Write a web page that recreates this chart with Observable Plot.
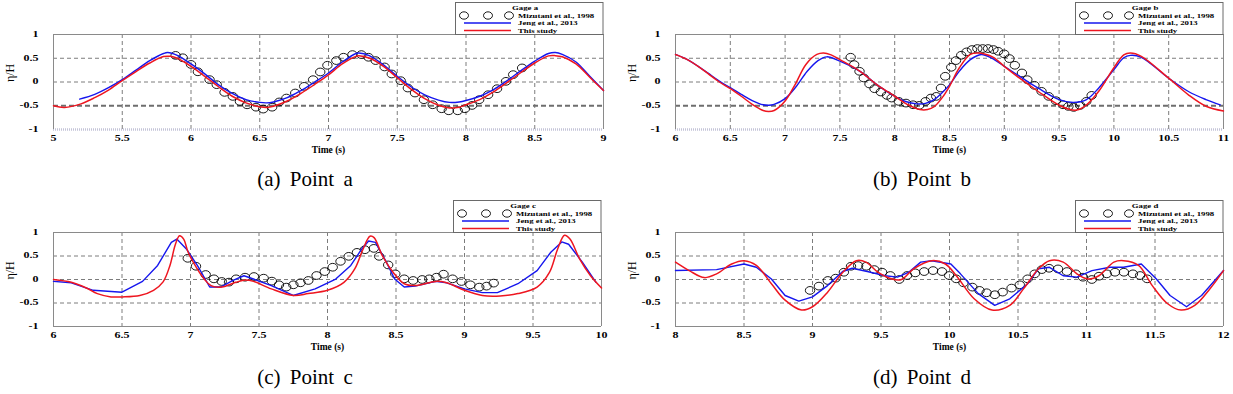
<!DOCTYPE html>
<html><head><meta charset="utf-8">
<script src="https://cdn.jsdelivr.net/npm/d3@7"></script>
<script src="https://cdn.jsdelivr.net/npm/@observablehq/plot@0.6"></script>
<style>
body{margin:0;background:#fff;width:1233px;height:394px;position:relative;overflow:hidden;font-family:"Liberation Serif",serif}
.panel{position:absolute;width:616px;height:160px}
.cap{position:absolute;width:616px;text-align:center;font-size:21px;word-spacing:4px;line-height:1;color:#000}
</style></head><body>
<script>
// ---------- tick labels ----------
const yTicks = [-1, -0.5, 0, 0.5, 1];
const xTicksA = [5, 5.5, 6, 6.5, 7, 7.5, 8, 8.5, 9];
const xTicksB = [6, 6.5, 7, 7.5, 8, 8.5, 9, 9.5, 10, 10.5, 11];
const xTicksC = [6, 6.5, 7, 7.5, 8, 8.5, 9, 9.5, 10];
const xTicksD = [8, 8.5, 9, 9.5, 10, 10.5, 11, 11.5, 12];
const seriesNames = ["Mizutani et al., 1998", "Jeng et al., 2013", "This study"];
const gageNames = ["Gage a", "Gage b", "Gage c", "Gage d"];
const captions = ["(a) Point a", "(b) Point b", "(c) Point c", "(d) Point d"];

// ---------- Gage a ----------
const aMizutani = [[5.888,0.56],[5.94,0.51],[6.0,0.37],[6.05,0.215],[6.135,0.05],[6.187,-0.056],[6.244,-0.218],[6.304,-0.303],[6.356,-0.41],[6.408,-0.48],[6.473,-0.53],[6.525,-0.57],[6.59,-0.53],[6.642,-0.42],[6.694,-0.338],[6.758,-0.232],[6.823,-0.092],[6.888,0.049],[6.94,0.211],[6.992,0.352],[7.057,0.451],[7.109,0.521],[7.174,0.577],[7.239,0.577],[7.291,0.521],[7.343,0.451],[7.408,0.317],[7.46,0.169],[7.525,0.028],[7.577,-0.127],[7.629,-0.232],[7.694,-0.373],[7.758,-0.479],[7.823,-0.563],[7.875,-0.606],[7.94,-0.606],[7.992,-0.563],[8.044,-0.493],[8.096,-0.373],[8.161,-0.268],[8.226,-0.141],[8.291,0.014],[8.343,0.155],[8.408,0.296]];
const aJeng = [[5.19,-0.36],[5.3,-0.26],[5.4,-0.12],[5.5,0.05],[5.6,0.25],[5.7,0.45],[5.8,0.6],[5.83,0.62],[5.9,0.56],[6.0,0.38],[6.1,0.17],[6.2,-0.06],[6.3,-0.24],[6.4,-0.37],[6.5,-0.43],[6.55,-0.44],[6.6,-0.42],[6.7,-0.33],[6.8,-0.18],[6.9,0.0],[7.0,0.19],[7.1,0.42],[7.2,0.6],[7.22,0.61],[7.3,0.55],[7.4,0.36],[7.5,0.12],[7.6,-0.1],[7.7,-0.27],[7.8,-0.38],[7.88,-0.43],[7.95,-0.42],[8.0,-0.39],[8.1,-0.3],[8.2,-0.16],[8.3,0.03],[8.4,0.24],[8.5,0.44],[8.6,0.6],[8.65,0.62],[8.7,0.58],[8.8,0.42],[8.9,0.12],[9.0,-0.18]];
const aStudy = [[5.0,-0.5],[5.08,-0.535],[5.2,-0.46],[5.3,-0.33],[5.4,-0.17],[5.5,0.03],[5.6,0.22],[5.7,0.4],[5.8,0.535],[5.85,0.54],[5.9,0.5],[6.0,0.33],[6.1,0.12],[6.2,-0.1],[6.3,-0.3],[6.4,-0.44],[6.5,-0.52],[6.55,-0.535],[6.6,-0.51],[6.7,-0.4],[6.8,-0.24],[6.9,-0.05],[7.0,0.15],[7.1,0.38],[7.2,0.54],[7.22,0.555],[7.3,0.5],[7.4,0.33],[7.5,0.09],[7.6,-0.15],[7.7,-0.35],[7.8,-0.49],[7.88,-0.545],[7.95,-0.53],[8.0,-0.48],[8.1,-0.37],[8.2,-0.21],[8.3,-0.01],[8.4,0.2],[8.5,0.4],[8.6,0.55],[8.65,0.555],[8.7,0.53],[8.8,0.38],[8.9,0.1],[9.0,-0.18]];

// ---------- Gage b ----------
const bMizutani = [[7.598,0.521],[7.63,0.366],[7.679,0.225],[7.718,0.085],[7.77,-0.042],[7.816,-0.141],[7.874,-0.211],[7.93,-0.282],[7.972,-0.338],[8.037,-0.408],[8.103,-0.444],[8.168,-0.479],[8.223,-0.493],[8.282,-0.408],[8.33,-0.338],[8.379,-0.303],[8.422,-0.127],[8.461,0.12],[8.516,0.31],[8.559,0.451],[8.607,0.563],[8.656,0.634],[8.705,0.683],[8.754,0.704],[8.803,0.704],[8.852,0.704],[8.901,0.683],[8.943,0.648],[8.999,0.592],[9.047,0.493],[9.096,0.352],[9.161,0.19],[9.21,0.049],[9.275,-0.07],[9.34,-0.197],[9.405,-0.303],[9.471,-0.394],[9.536,-0.479],[9.585,-0.514],[9.633,-0.535],[9.692,-0.493],[9.748,-0.408],[9.797,-0.282]];
const bJeng = [[6.0,0.58],[6.1,0.48],[6.2,0.34],[6.3,0.18],[6.4,0.02],[6.5,-0.12],[6.6,-0.26],[6.7,-0.39],[6.8,-0.48],[6.85,-0.49],[6.9,-0.47],[7.0,-0.35],[7.1,-0.1],[7.2,0.22],[7.3,0.45],[7.38,0.53],[7.5,0.44],[7.68,0.23],[7.84,-0.06],[8.0,-0.3],[8.1,-0.41],[8.2,-0.46],[8.28,-0.45],[8.36,-0.37],[8.43,-0.23],[8.5,-0.06],[8.59,0.23],[8.69,0.47],[8.79,0.58],[8.88,0.51],[9.0,0.33],[9.14,0.12],[9.31,-0.13],[9.5,-0.37],[9.63,-0.43],[9.75,-0.37],[9.86,-0.13],[10.0,0.26],[10.09,0.51],[10.15,0.56],[10.25,0.52],[10.5,0.08],[10.68,-0.2],[10.84,-0.37],[10.97,-0.48]];
const bStudy = [[6.0,0.58],[6.1,0.48],[6.2,0.34],[6.3,0.17],[6.4,0.0],[6.5,-0.14],[6.6,-0.3],[6.7,-0.47],[6.8,-0.6],[6.85,-0.62],[6.9,-0.6],[7.0,-0.4],[7.09,-0.06],[7.19,0.37],[7.29,0.58],[7.35,0.61],[7.42,0.57],[7.5,0.47],[7.68,0.23],[7.84,-0.06],[8.0,-0.3],[8.13,-0.49],[8.23,-0.58],[8.3,-0.58],[8.36,-0.52],[8.43,-0.34],[8.5,-0.09],[8.59,0.3],[8.69,0.58],[8.76,0.61],[8.82,0.59],[8.9,0.52],[9.0,0.33],[9.14,0.08],[9.31,-0.2],[9.5,-0.49],[9.6,-0.58],[9.66,-0.59],[9.75,-0.48],[9.86,-0.2],[10.0,0.3],[10.09,0.57],[10.15,0.61],[10.25,0.54],[10.5,0.08],[10.68,-0.27],[10.84,-0.51],[11.0,-0.61]];

// ---------- Gage c ----------
const cMizutani = [[6.98,0.451],[7.04,0.282],[7.111,0.106],[7.171,0.014],[7.228,-0.042],[7.281,-0.056],[7.333,0.014],[7.398,0.049],[7.463,0.063],[7.534,0.028],[7.594,-0.035],[7.646,-0.113],[7.699,-0.162],[7.751,-0.113],[7.803,-0.07],[7.86,-0.021],[7.92,0.085],[7.98,0.169],[8.038,0.261],[8.095,0.387],[8.155,0.493],[8.215,0.577],[8.273,0.634],[8.338,0.662],[8.377,0.493],[8.443,0.31],[8.495,0.12],[8.56,0.014],[8.625,-0.021],[8.691,0.0],[8.743,0.014],[8.795,0.049],[8.847,0.113],[8.913,0.014],[8.978,-0.042],[9.043,-0.113],[9.108,-0.162],[9.161,-0.141],[9.213,-0.077]];
const cJeng = [[6.0,-0.04],[6.13,-0.07],[6.29,-0.23],[6.5,-0.27],[6.65,-0.04],[6.76,0.3],[6.86,0.79],[6.9,0.86],[6.97,0.65],[7.05,0.3],[7.14,-0.16],[7.22,-0.16],[7.31,-0.02],[7.39,0.08],[7.46,0.01],[7.59,-0.13],[7.75,-0.34],[7.91,-0.2],[8.06,0.01],[8.17,0.3],[8.25,0.65],[8.3,0.82],[8.35,0.79],[8.43,0.37],[8.49,0.01],[8.56,-0.16],[8.64,-0.14],[8.79,-0.04],[8.87,-0.07],[9.0,-0.2],[9.13,-0.28],[9.24,-0.28],[9.39,-0.09],[9.53,0.19],[9.63,0.58],[9.71,0.8],[9.76,0.75],[9.86,0.37],[9.96,-0.06]];
const cStudy = [[6.0,0.0],[6.13,-0.06],[6.24,-0.18],[6.32,-0.3],[6.42,-0.37],[6.5,-0.37],[6.63,-0.34],[6.73,-0.23],[6.8,-0.05],[6.85,0.3],[6.89,0.75],[6.92,0.93],[6.95,0.86],[6.98,0.6],[7.02,0.37],[7.1,0.01],[7.15,-0.13],[7.23,-0.16],[7.33,-0.06],[7.4,-0.01],[7.46,-0.04],[7.59,-0.2],[7.75,-0.34],[7.86,-0.3],[8.0,-0.23],[8.12,-0.06],[8.2,0.23],[8.26,0.65],[8.31,0.92],[8.34,0.89],[8.4,0.51],[8.48,0.15],[8.56,-0.09],[8.64,-0.13],[8.79,-0.04],[8.87,-0.07],[9.0,-0.23],[9.13,-0.34],[9.26,-0.35],[9.39,-0.3],[9.53,-0.16],[9.62,0.15],[9.68,0.65],[9.73,0.94],[9.77,0.86],[9.84,0.44],[9.92,0.08],[10.0,-0.18]];

// ---------- Gage d ----------
const dMizutani = [[8.982,-0.232],[9.047,-0.141],[9.112,-0.021],[9.169,0.028],[9.229,0.155],[9.281,0.282],[9.333,0.296],[9.393,0.282],[9.451,0.211],[9.508,0.155],[9.568,0.085],[9.633,0.0],[9.69,0.085],[9.75,0.141],[9.815,0.169],[9.88,0.19],[9.945,0.169],[9.997,0.085],[10.049,0.014],[10.102,-0.07],[10.167,-0.162],[10.219,-0.232],[10.271,-0.282],[10.331,-0.324],[10.388,-0.268],[10.453,-0.183],[10.513,-0.113],[10.57,0.014],[10.622,0.12],[10.674,0.211],[10.727,0.239],[10.792,0.225],[10.857,0.169],[10.922,0.12],[10.974,0.049],[11.039,0.0],[11.091,0.07],[11.148,0.12],[11.208,0.155],[11.273,0.155],[11.339,0.12],[11.391,0.085],[11.443,0.014]];
const dJeng = [[8.0,0.19],[8.3,0.21],[8.5,0.33],[8.59,0.26],[8.7,0.01],[8.8,-0.34],[8.9,-0.46],[9.0,-0.37],[9.11,-0.13],[9.22,0.17],[9.29,0.24],[9.4,0.17],[9.53,0.08],[9.62,0.05],[9.7,0.15],[9.79,0.37],[9.87,0.4],[10.01,0.33],[10.08,0.12],[10.21,-0.3],[10.33,-0.55],[10.44,-0.41],[10.57,-0.09],[10.65,0.23],[10.73,0.26],[10.83,0.08],[10.93,0.05],[11.04,0.19],[11.17,0.26],[11.27,0.26],[11.4,0.33],[11.51,0.01],[11.61,-0.34],[11.73,-0.58],[11.84,-0.34],[12.0,0.19]];
const dStudy = [[8.0,0.37],[8.1,0.19],[8.21,0.04],[8.3,0.12],[8.41,0.33],[8.5,0.4],[8.59,0.3],[8.7,-0.09],[8.8,-0.44],[8.92,-0.65],[9.0,-0.58],[9.11,-0.27],[9.22,0.15],[9.32,0.4],[9.39,0.37],[9.48,0.15],[9.58,0.01],[9.65,0.0],[9.74,0.23],[9.87,0.4],[9.97,0.33],[10.05,0.08],[10.18,-0.41],[10.31,-0.65],[10.44,-0.55],[10.54,-0.2],[10.65,0.23],[10.73,0.4],[10.83,0.37],[10.93,0.12],[11.01,0.01],[11.09,0.08],[11.2,0.37],[11.27,0.4],[11.38,0.3],[11.48,-0.13],[11.59,-0.51],[11.69,-0.65],[11.79,-0.55],[11.9,-0.2],[12.0,0.19]];

// ---------- build ----------
const rows = arr => arr.map(([t, v]) => ({t, v}));
const ellipse = {draw(ctx, size) {
  const r = Math.sqrt(size / Math.PI), rx = r * 1.12, ry = r * 0.92, k = 0.5523;
  ctx.moveTo(rx, 0);
  ctx.bezierCurveTo(rx, k*ry, k*rx, ry, 0, ry);
  ctx.bezierCurveTo(-k*rx, ry, -rx, k*ry, -rx, 0);
  ctx.bezierCurveTo(-rx, -k*ry, -k*rx, -ry, 0, -ry);
  ctx.bezierCurveTo(k*rx, -ry, rx, -k*ry, rx, 0);
  ctx.closePath();
}};
const BLUE = "#1616ee", RED = "#ee1620", GRID = "#7c7c7c";

const panels = [
  {left: 0,   top: 0,   ml: 53, mr: 13, mb: 31, ticks: xTicksA, miz: aMizutani, jeng: aJeng, study: aStudy, heavy: true,  blueCurve: "catmull-rom"},
  {left: 617, top: 0,   ml: 58, mr: 10, mb: 31, ticks: xTicksB, miz: bMizutani, jeng: bJeng, study: bStudy, heavy: true,  blueCurve: "catmull-rom"},
  {left: 0,   top: 198, ml: 53, mr: 15, mb: 32, ticks: xTicksC, miz: cMizutani, jeng: cJeng, study: cStudy, heavy: false, blueCurve: "linear"},
  {left: 617, top: 198, ml: 58, mr: 10, mb: 32, ticks: xTicksD, miz: dMizutani, jeng: dJeng, study: dStudy, heavy: false, blueCurve: "linear"}
];

function stretch(root, selector, sx) {
  root.querySelectorAll(selector).forEach(t => {
    const x = +t.getAttribute("x") || 0, y = +t.getAttribute("y") || 0;
    const T = t.getAttribute("transform") || "";
    t.setAttribute("transform", `${T} translate(${x},${y}) scale(${sx},1) translate(${-x},${-y})`);
  });
}

panels.forEach((p, i) => {
  const x0 = p.ticks[0], x1 = p.ticks[p.ticks.length - 1];
  const marks = [
    Plot.ruleX(p.ticks.slice(1, -1), {stroke: GRID, strokeDasharray: "4,3", strokeWidth: 1}),
    Plot.ruleY(p.heavy ? [0.5, 0] : [0.5, 0, -0.5], {stroke: GRID, strokeDasharray: "4,3", strokeWidth: 1}),
  ];
  if (p.heavy) {
    marks.push(Plot.ruleY([-0.5], {stroke: "#6e6e6e", strokeDasharray: "5,3", strokeWidth: 2}));
    marks.push(Plot.ruleY([-1], {stroke: "#c4c4d8", strokeDasharray: "1,1", strokeWidth: 2.5}));
  } else {
    marks.push(Plot.ruleY([-1], {stroke: "#8a8a8a", strokeWidth: 1}));
  }
  marks.push(
    Plot.ruleY([1], {stroke: "#8a8a8a", strokeWidth: 1}),
    Plot.ruleX([x0, x1], {stroke: "#8a8a8a", strokeWidth: 1}),
    Plot.dot(rows(p.miz), {x: "t", y: "v", r: 4.2, symbol: ellipse, stroke: "#000", fill: "none", strokeWidth: 0.9}),
    Plot.line(rows(p.jeng), {x: "t", y: "v", stroke: BLUE, strokeWidth: 1.4, curve: p.blueCurve}),
    Plot.line(rows(p.study), {x: "t", y: "v", stroke: RED, strokeWidth: 1.5, curve: "catmull-rom"}),
    Plot.text(["Time (s)"], {frameAnchor: "bottom", dy: 23, fontSize: 9.5, fontWeight: "bold", ariaLabel: "xlabel"}),
    Plot.text(["η/H"], {frameAnchor: "left", dx: -43, rotate: -90, fontSize: 12, fontWeight: "normal", ariaLabel: "ylabel"})
  );
  const chart = Plot.plot({
    width: 616, height: 160,
    marginTop: 34, marginBottom: p.mb, marginLeft: p.ml, marginRight: p.mr,
    style: {fontFamily: "Liberation Serif", fontWeight: "bold", fontSize: "7.5px", color: "#000", background: "transparent", overflow: "visible"},
    x: {domain: [x0, x1], ticks: p.ticks, tickFormat: d => String(d), tickSize: 0, tickPadding: 6, label: null},
    y: {domain: [-1, 1], ticks: yTicks, tickFormat: d => String(d), tickSize: 0, tickPadding: 15, label: null},
    marks
  });
  const div = document.createElement("div");
  div.className = "panel";
  div.style.left = p.left + "px";
  div.style.top = p.top + "px";
  div.appendChild(chart);
  document.body.appendChild(div);
  stretch(chart, 'g[aria-label="x-axis tick label"] text, g[aria-label="y-axis tick label"] text', 1.6);
  stretch(chart, 'g[aria-label="xlabel"] text', 1.55);

  // legend box (top-right, above the frame)
  const plotRight = p.left + 616 - p.mr;
  const lg = d3.select(document.body).append("svg")
    .style("position", "absolute").style("left", (plotRight - 148) + "px").style("top", (p.top + 2) + "px")
    .attr("width", 149).attr("height", 33)
    .style("font-family", "Liberation Serif").style("font-weight", "bold").style("font-size", "6.5px");
  lg.append("rect").attr("x", 0.5).attr("y", 0.5).attr("width", 147.5).attr("height", 32).attr("fill", "#fff").attr("stroke", "#6a6a6a");
  const txt = (s, x, y, anchor) => lg.append("text").attr("transform", `translate(${x},${y}) scale(1.35,1)`)
    .attr("text-anchor", anchor).attr("dy", "0.35em").text(s);
  txt(gageNames[i], 70, 6, "middle");
  const ell = d3.symbol(ellipse, Math.PI * 4 * 4);
  [9, 33, 54].forEach(cx => lg.append("path").attr("d", ell()).attr("transform", `translate(${cx},13.5)`)
    .attr("fill", "none").attr("stroke", "#000").attr("stroke-width", 0.9));
  txt(seriesNames[0], 63, 13.5, "start");
  lg.append("line").attr("x1", 9).attr("x2", 56).attr("y1", 21).attr("y2", 21).attr("stroke", BLUE).attr("stroke-width", 1.4);
  txt(seriesNames[1], 63, 21, "start");
  lg.append("line").attr("x1", 9).attr("x2", 56).attr("y1", 28.5).attr("y2", 28.5).attr("stroke", RED).attr("stroke-width", 1.5);
  txt(seriesNames[2], 63, 28.5, "start");

  // caption
  const cap = document.createElement("div");
  cap.className = "cap";
  cap.style.left = (p.left - 3) + "px";
  cap.style.top = (p.top + 169) + "px";
  cap.textContent = captions[i];
  document.body.appendChild(cap);
});
</script>
</body></html>
